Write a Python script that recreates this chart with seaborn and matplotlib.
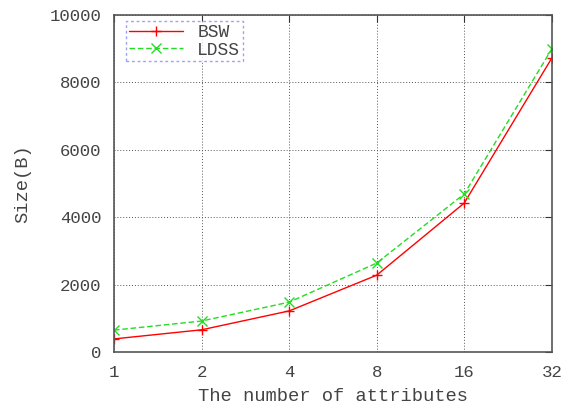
import pandas as pd
import matplotlib
matplotlib.use("Agg")
import matplotlib.pyplot as plt
import seaborn as sns

# data
attributes = [1, 2, 4, 8, 16, 32]
bsw = [390, 660, 1220, 2280, 4420, 8720]
ldss = [650, 920, 1480, 2640, 4690, 8990]

df = pd.DataFrame({
    "attributes": attributes * 2,
    "size": bsw + ldss,
    "scheme": ["BSW"] * len(bsw) + ["LDSS"] * len(ldss),
})

sns.set_style("white")
plt.rcParams["font.family"] = ["Liberation Mono", "DejaVu Sans Mono"]

fig = plt.figure(figsize=(5.63, 4.07), dpi=100)
ax = fig.add_axes([0.2025, 0.135, 0.7775, 0.828])

sns.lineplot(data=df, x="attributes", y="size", hue="scheme", style="scheme",
             palette={"BSW": "#ff0000", "LDSS": "#22dd22"},
             dashes={"BSW": "", "LDSS": (4, 2)},
             markers={"BSW": "+", "LDSS": "x"},
             markersize=6.5, linewidth=1, ax=ax)

# seaborn paints marker edges white; give them the line colour
for ln in ax.get_lines():
    ln.set_markeredgecolor(ln.get_color())
    ln.set_markeredgewidth(1.0)

ax.set_xscale("log", base=2)
ax.set_xlim(1, 32)
ax.set_ylim(0, 10000)
ax.set_xticks(attributes)
ax.set_xticklabels([str(a) for a in attributes])
ax.set_yticks(range(0, 10001, 2000))
ax.minorticks_off()

ax.grid(True, color="#555555", linestyle=(0, (1, 2)), linewidth=0.7)
ax.tick_params(direction="in", length=5, color="#333333", labelsize=12.5,
               labelcolor="#444444", top=True, right=True, pad=9)
for s in ax.spines.values():
    s.set_color("#555555")
    s.set_linewidth(1.2)

ax.set_xlabel("The number of attributes", fontsize=13.5, color="#444444", labelpad=6)
ax.set_ylabel("Size(B)", fontsize=13.5, color="#444444", labelpad=13)

leg = ax.legend(loc="upper left", fontsize=13, frameon=True, fancybox=False,
                handlelength=3.0, handletextpad=0.8, borderpad=0.15,
                labelspacing=0.05, borderaxespad=0,
                bbox_to_anchor=(0.027, 0.982))
leg.set_title(None)
leg.get_frame().set_edgecolor("#8888ee")
leg.get_frame().set_linestyle((0, (2, 2)))
leg.get_frame().set_linewidth(1)
for t in leg.get_texts():
    t.set_color("#444444")
for h in leg.get_lines():
    h.set_markeredgecolor(h.get_color())
    h.set_markeredgewidth(1.0)

fig.savefig("out.png", dpi=100)
